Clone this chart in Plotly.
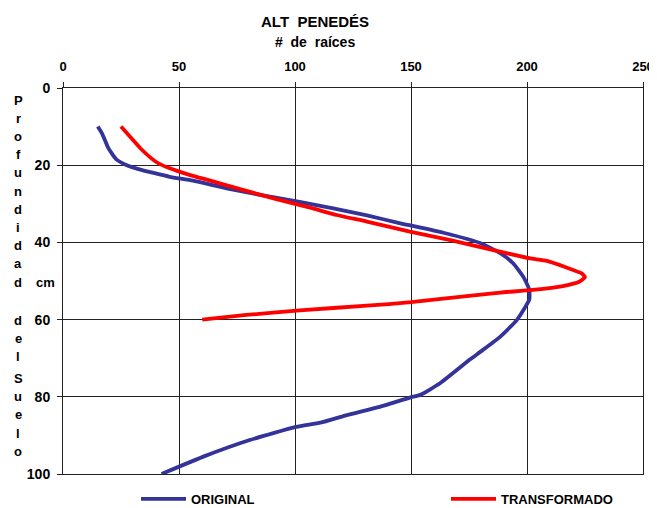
import plotly.graph_objects as go

# ---- data ----
orig_x = [15, 17, 19.5, 23, 27.5, 32.5, 39, 46, 56, 70.5, 85, 102, 116.5, 131, 145, 164,
          180, 188.5, 194, 198.5, 201, 201, 199, 195.5, 188.5, 180, 175.5, 162.5, 154,
          149.5, 136.5, 122, 111, 100.5, 80.5, 60.5, 42.5]
orig_y = [10, 12, 15.5, 18.5, 20, 21, 22, 23, 24, 26, 27.7, 29.5, 31.2, 33, 35, 37.5,
          40.2, 42.8, 45.4, 49, 52.3, 54.8, 57, 60.2, 64.4, 68.3, 70.3, 76.5, 79.5,
          80.2, 82.6, 84.8, 86.7, 87.8, 91.2, 95.5, 100]

trans_x = [25, 29.5, 34, 40.5, 46, 54.5, 63.5, 77.5, 92, 106.5, 118, 131, 149.5, 167,
           185.5, 201, 208.5, 217, 223.5, 225, 222.5, 215.5, 202.5, 188.5, 174, 150,
           131, 102, 79, 60]
trans_y = [10, 13, 16, 19.3, 20.8, 22.5, 24, 26.4, 28.8, 31, 32.9, 34.6, 37.2, 39.4,
           42, 44.1, 44.8, 46.5, 48, 49, 50.2, 51.3, 52.3, 53, 53.9, 55.5, 56.4, 57.6,
           58.8, 60]

series_names = ["ORIGINAL", "TRANSFORMADO"]
x_ticks = [0, 50, 100, 150, 200, 250]
y_ticks = [0, 20, 40, 60, 80, 100]

title_main = "ALT\u00a0\u00a0PENEDÉS"
title_sub = "#\u00a0\u00a0de\u00a0\u00a0raíces"
ylabel_words = ["Profundidad", "del", "Suelo"]
ylabel_unit = "cm"

FONT = "Liberation Sans, Arial, sans-serif"
OFF = 8  # page body margin
W, H = 657 - OFF, 508 - OFF
L, R, T, B = 63 - OFF, 643 - OFF, 88 - OFF, 474 - OFF

fig = go.Figure()
fig.add_trace(go.Scatter(x=orig_x, y=orig_y, mode="lines", name=series_names[0],
                         legend="legend",
                         line=dict(color="#333399", width=3.8, shape="spline", smoothing=0.5)))
fig.add_trace(go.Scatter(x=trans_x, y=trans_y, mode="lines", name=series_names[1],
                         legend="legend2",
                         line=dict(color="#FF0000", width=3.8, shape="spline", smoothing=0.5)))

axis_common = dict(showgrid=True, gridcolor="#222222", gridwidth=1,
                   showline=True, linecolor="#222222", linewidth=1, mirror=True,
                   ticks="outside", ticklen=5, tickcolor="#222222", zeroline=False)

fig.update_xaxes(range=[0, 250], tickvals=x_ticks, side="top", ticklabelstandoff=6,
                 tickfont=dict(family=FONT, size=13, color="black", weight="bold"),
                 **axis_common)
fig.update_yaxes(range=[100, 0], tickvals=y_ticks, ticklabelstandoff=4,
                 tickfont=dict(family=FONT, size=14, color="black", weight="bold"),
                 **axis_common)


def px_x(p):
    return (p - OFF - L) / (R - L)


def px_y(p):
    return (B - (p - OFF)) / (B - T)


annotations = []
annotations.append(dict(text=title_main, x=px_x(315), y=px_y(21), xref="paper", yref="paper",
                        showarrow=False, xanchor="center", yanchor="middle",
                        font=dict(family=FONT, size=15, color="black", weight="bold")))
annotations.append(dict(text=title_sub, x=px_x(315), y=px_y(42), xref="paper", yref="paper",
                        showarrow=False, xanchor="center", yanchor="middle",
                        font=dict(family=FONT, size=14, color="black", weight="bold")))

# vertical stacked y-axis title
starts = [100, 320, 378]
steps = [18.2, 18.0, 18.4]
for word, s0, st in zip(ylabel_words, starts, steps):
    for i, ch in enumerate(word):
        annotations.append(dict(text=ch, x=px_x(18), y=px_y(s0 + i * st), xref="paper",
                                yref="paper", showarrow=False, xanchor="center",
                                yanchor="middle",
                                font=dict(family=FONT, size=13, color="black", weight="bold")))
annotations.append(dict(text=ylabel_unit, x=px_x(45), y=px_y(282), xref="paper", yref="paper",
                        showarrow=False, xanchor="center", yanchor="middle",
                        font=dict(family=FONT, size=13, color="black", weight="bold")))

legend_common = dict(orientation="h", xanchor="left", yanchor="top", y=px_y(484),
                     itemwidth=45,
                     font=dict(family=FONT, size=13, color="black", weight="bold"),
                     bgcolor="rgba(0,0,0,0)")

fig.update_layout(
    width=W, height=H,
    margin=dict(l=L, r=W - R, t=T, b=H - B, autoexpand=False),
    paper_bgcolor="white", plot_bgcolor="white",
    showlegend=True,
    legend=dict(x=px_x(136), **legend_common),
    legend2=dict(x=px_x(446), **legend_common),
    annotations=annotations,
)

fig.write_html("out.html")
